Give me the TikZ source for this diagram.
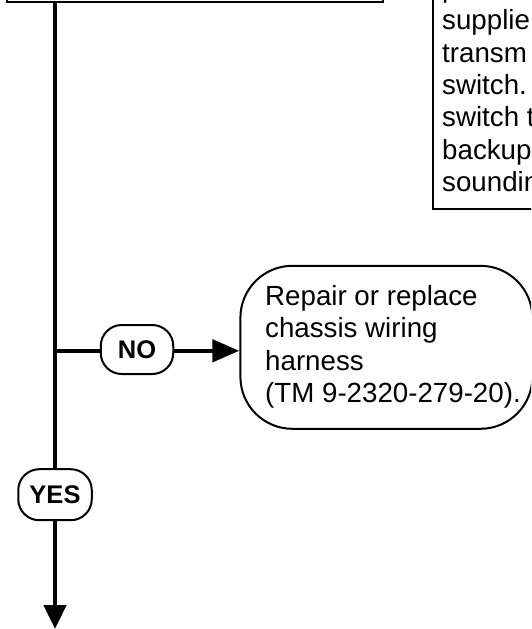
\documentclass[tikz,border=0pt]{standalone}
\usepackage{fontspec}
\setmainfont{Liberation Sans}
\usetikzlibrary{arrows.meta}
\begin{document}
\begin{tikzpicture}[x=1pt,y=-1pt,
  conn/.style={line width=4.6pt},
  downtip/.style={-{Triangle[length=24pt,width=22pt]}},
  righttip/.style={-{Triangle[length=27pt,width=22pt]}},
  pill/.style={draw, line width=2pt, rounded corners=21pt, inner sep=0pt,
    font=\fontsize{25.5}{28}\selectfont\bfseries},
  bodytext/.style={font=\fontsize{27.7}{32.3}\selectfont, align=left,
    inner sep=0pt, anchor=north west},
  framebox/.style={draw, line width=2pt, inner sep=0pt}
]
\useasboundingbox (0,0) rectangle (531,629);
\clip (0,0) rectangle (531,629);

% box at the top (mostly outside the picture)
\node[framebox, minimum width=375.7pt, minimum height=60pt] (topbox) at (194.9,-28.3) {};

% note box at the right (partly outside the picture)
\node[framebox, line width=2.2pt, minimum width=200pt, minimum height=280pt] (notebox) at (533,69) {};
\node[bodytext] (notetext) at (442,-25.3)
  {\strut p\\supplie\\transm\\switch.\\switch t\\backup\\soundin};

% repair box
\node[framebox, rounded corners=52pt, minimum width=292pt, minimum height=163pt] (repair) at (386.4,347.3) {};
\node[bodytext] (repairtext) at (265,282.6)
  {\strut Repair or replace\\chassis wiring\\harness\\(TM~9-2320-279-20).};

% decision labels
\node[pill, minimum width=72.5pt, minimum height=49pt] (no) at (137,349.5) {NO};
\node[pill, minimum width=73.5pt, minimum height=51pt] (yes) at (55,494.7) {YES};

\coordinate (junction) at (55,350.8);
\coordinate (bottomend) at (55,629);

% connectors
\draw[conn] (topbox.south -| yes.north) -- (yes.north);
\draw[conn, downtip] (yes.south) -- (bottomend);
\draw[conn] (junction) -- (junction -| no.west);
\draw[conn, righttip] (junction -| no.east) -- (junction -| repair.west);
\end{tikzpicture}
\end{document}
